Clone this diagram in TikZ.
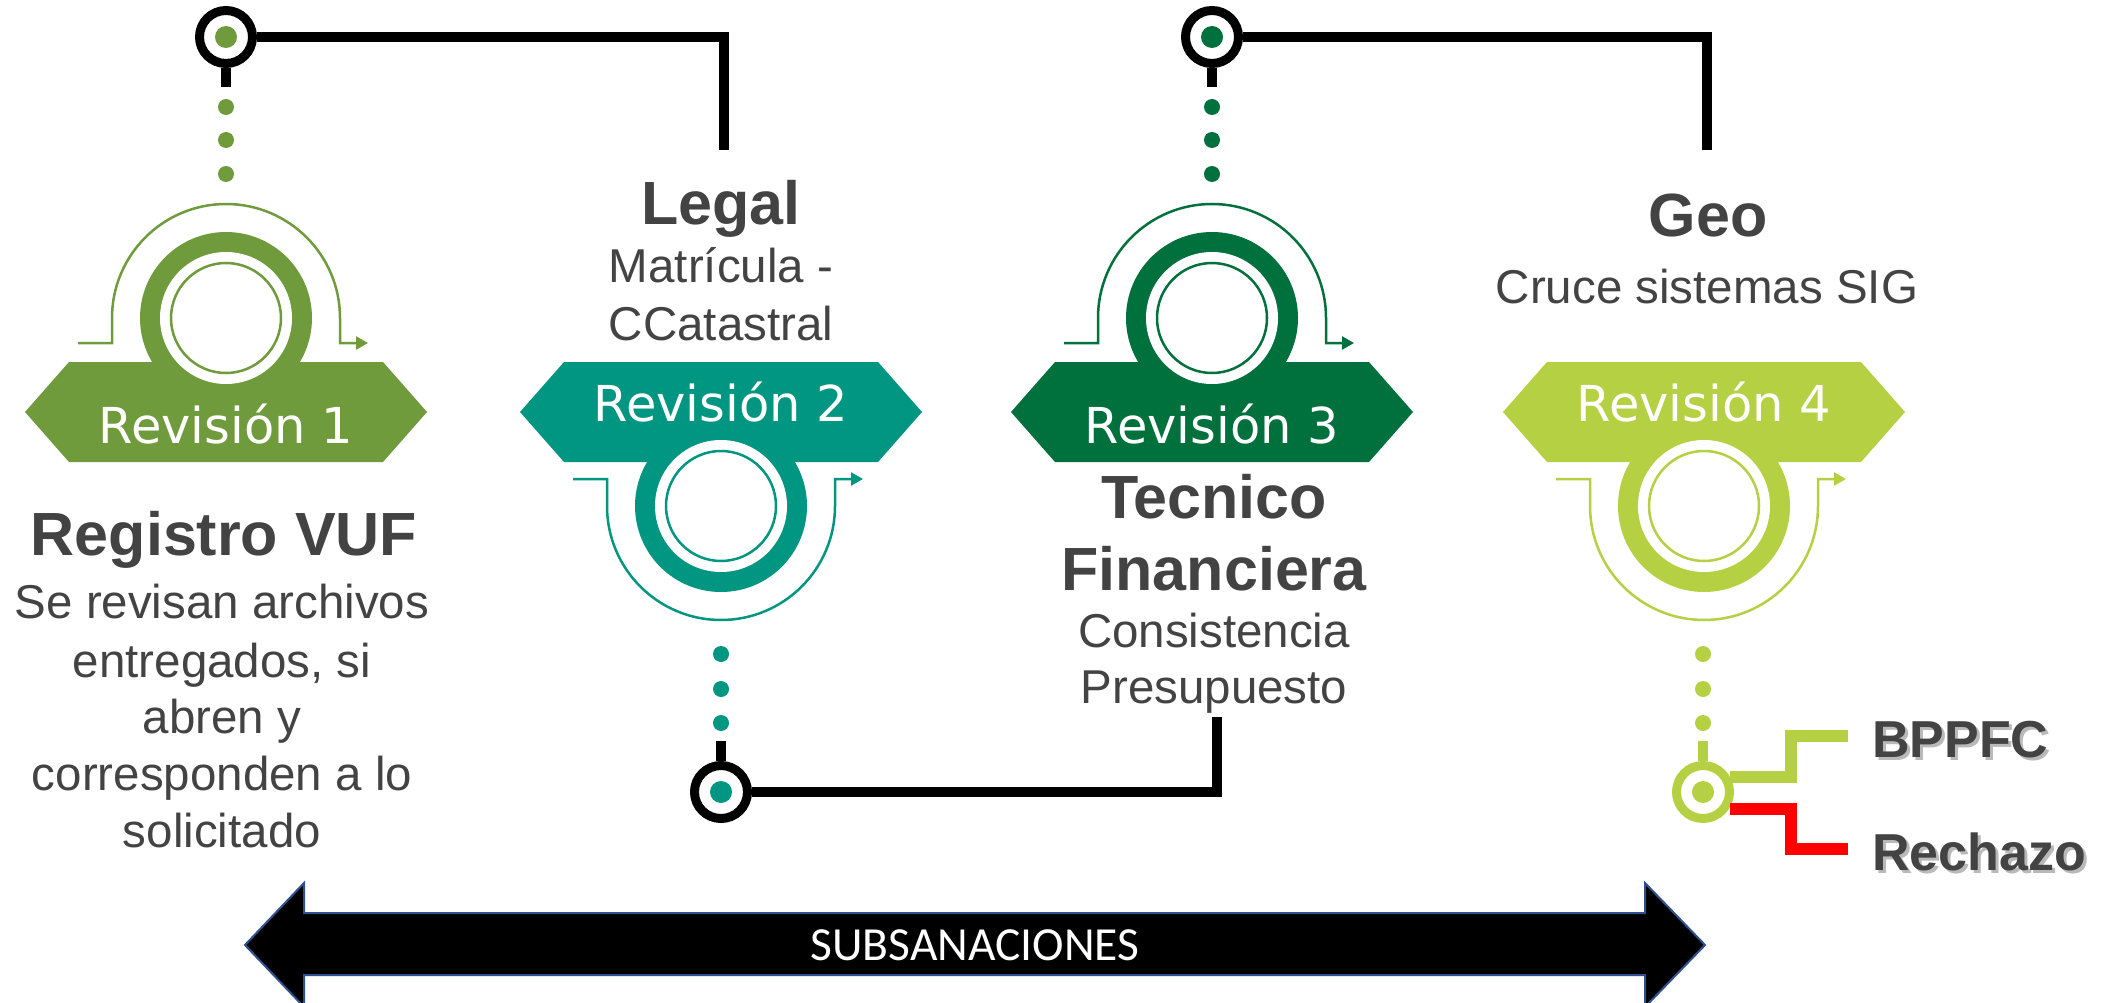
\documentclass[tikz,border=0pt]{standalone}
\usepackage{fontspec}
\setmainfont{Liberation Sans}
\newfontfamily\revfont{DejaVu Sans}
\newfontfamily\subfont{Carlito}
\usetikzlibrary{arrows.meta}
\definecolor{cA}{HTML}{6F9B3C}
\definecolor{cB}{HTML}{009681}
\definecolor{cC}{HTML}{00703C}
\definecolor{cD}{HTML}{B5D042}
\definecolor{txt}{HTML}{434343}
\definecolor{arrowblue}{HTML}{2F528F}
\definecolor{shadowgray}{HTML}{A8A8A8}
% #1 x, #2 colour, #3 ring y, #4 tail y, #5 end angle, #6 label baseline, #7 label, #8 name
\newcommand\RevStage[8]{%
  \fill[#2] (#1-201,412) -- (#1-157,362) -- (#1+157,362) -- (#1+201,412) -- (#1+157,462) -- (#1-157,462) -- cycle;
  \fill[#2] (#1,#3) circle[radius=86pt];
  \fill[white] (#1,#3) circle[radius=66pt];
  \draw[#2, line width=2.5pt] (#1,#3) circle[radius=55pt];
  \draw[#2, line width=2.5pt, line join=miter, -{Triangle[length=12pt,width=13pt]}]
    (#1-148,#4) -- (#1-114,#4) -- (#1-114,#3) arc[start angle=180, end angle=#5, radius=114pt] -- (#1+114,#4) -- (#1+142,#4);
  \node[revlabel] (#8) at (#1,#6) {#7};
}
\begin{document}
\begin{tikzpicture}[x=1pt,y=-1pt,
  revlabel/.style={text=white, anchor=base, inner sep=0pt, font=\revfont\fontsize{49.5}{58}\selectfont},
  title/.style={text=txt, anchor=base, inner sep=0pt, font=\bfseries\fontsize{61}{70}\selectfont},
  body/.style={text=txt, anchor=base, inner sep=0pt, font=\fontsize{47.5}{57}\selectfont},
  outcome/.style={text=txt, anchor=base west, inner sep=0pt, font=\bfseries\fontsize{52}{60}\selectfont},
  outshadow/.style={text=shadowgray, anchor=base west, inner sep=0pt, font=\bfseries\fontsize{52}{60}\selectfont, opacity=0.8},
  ringnode/.style={circle, draw=#1, line width=9pt, minimum size=53pt, inner sep=0pt},
  link/.style={draw=black, line width=10pt, line join=miter},
  stemline/.style={draw=#1, line width=10pt},
]
\fill[white] (0,0) rectangle (2113,1003);
\useasboundingbox (0,0) rectangle (2113,1003);

% ---------- stages ----------
\RevStage{226}{cA}{318}{343}{0}{443}{Revisión 1}{rev1}
\RevStage{721}{cB}{506}{479}{360}{421}{Revisión 2}{rev2}
\RevStage{1212}{cC}{318}{343}{0}{443}{Revisión 3}{rev3}
\RevStage{1704}{cD}{506}{479}{360}{421}{Revisión 4}{rev4}

% ---------- dotted leaders ----------
\foreach \yy in {107,140,174} {
  \fill[cA] (226,\yy) circle[radius=8pt];
  \fill[cC] (1212,\yy) circle[radius=8pt];
}
\foreach \yy in {654,689,723} {
  \fill[cB] (721,\yy) circle[radius=8pt];
  \fill[cD] (1703,\yy) circle[radius=8pt];
}

% ---------- small rings ----------
\node[ringnode=black] (k1) at (226,37) {};
\fill[cA] (k1.center) circle[radius=11pt];
\node[ringnode=black] (k3) at (1212,37) {};
\fill[cC] (k3.center) circle[radius=11pt];
\node[ringnode=black] (k2) at (721,792) {};
\fill[cB] (k2.center) circle[radius=11pt];
\node[ringnode=cD] (k4) at (1703,792) {};
\fill[cD] (k4.center) circle[radius=11pt];

\draw[stemline=black] (k1.south) -- ++(0,19);
\draw[stemline=black] (k3.south) -- ++(0,19);
\draw[stemline=black] (k2.north) -- ++(0,-20);
\draw[stemline=cD] (k4.north) -- ++(0,-20);

% ---------- connectors ----------
\coordinate (e1) at (724,150);
\coordinate (e3) at (1707,150);
\coordinate (e2) at (1217,717);
\draw[link] (k1.east) -| (e1);
\draw[link] (k3.east) -| (e3);
\draw[link] (k2.east) -| (e2);

% ---------- texts ----------
\node[title] (t1) at (224,555) {Registro VUF};
\node[body] (t1a) at (222,618) {Se revisan archivos};
\node[body] (t1b) at (222,677) {entregados, si};
\node[body] (t1c) at (222,733) {abren y};
\node[body] (t1d) at (222,790) {corresponden a lo};
\node[body] (t1e) at (222,847) {solicitado};

\node[title] (t2) at (721,225) {Legal};
\node[body] (t2a) at (721,283) {Matrícula -};
\node[body] (t2b) at (721,340) {CCatastral};

\node[title] (t3) at (1214,518) {Tecnico};
\node[title] (t3a) at (1214,590) {Financiera};
\node[body] (t3b) at (1214,647) {Consistencia};
\node[body] (t3c) at (1214,703) {Presupuesto};

\node[title] (t4) at (1708,237) {Geo};
\node[body] (t4a) at (1707,303) {Cruce sistemas SIG};

% ---------- outcomes ----------
\node[outshadow] (bpS) at (1875,760) {BPPFC};
\node[outcome] (bp) at (1872,757) {BPPFC};
\node[outshadow] (reS) at (1875,873) {Rechazo};
\node[outcome] (re) at (1872,870) {Rechazo};
\coordinate (gEnd) at (1848,736);
\coordinate (rEnd) at (1848,849);
\draw[cD, line width=12pt, line join=miter] ([shift={(-4pt,15pt)}]k4.east) -- (1791,777) -- (1791,736) -- (gEnd);
\draw[red, line width=12pt, line join=miter] ([shift={(-4pt,-17pt)}]k4.east) -- (1791,809) -- (1791,849) -- (rEnd);

% ---------- SUBSANACIONES arrow ----------
\draw[fill=black, draw=arrowblue, line width=2pt, line join=miter]
  (245,945) -- (304,883) -- (304,913) -- (1645,913) -- (1645,883) -- (1705,945)
  -- (1645,1007) -- (1645,975) -- (304,975) -- (304,1007) -- cycle;
\node[text=white, anchor=base, inner sep=0pt, font=\subfont\fontsize{47.5}{52}\selectfont] (subs) at (975,960) {SUBSANACIONES};
\end{tikzpicture}
\end{document}
